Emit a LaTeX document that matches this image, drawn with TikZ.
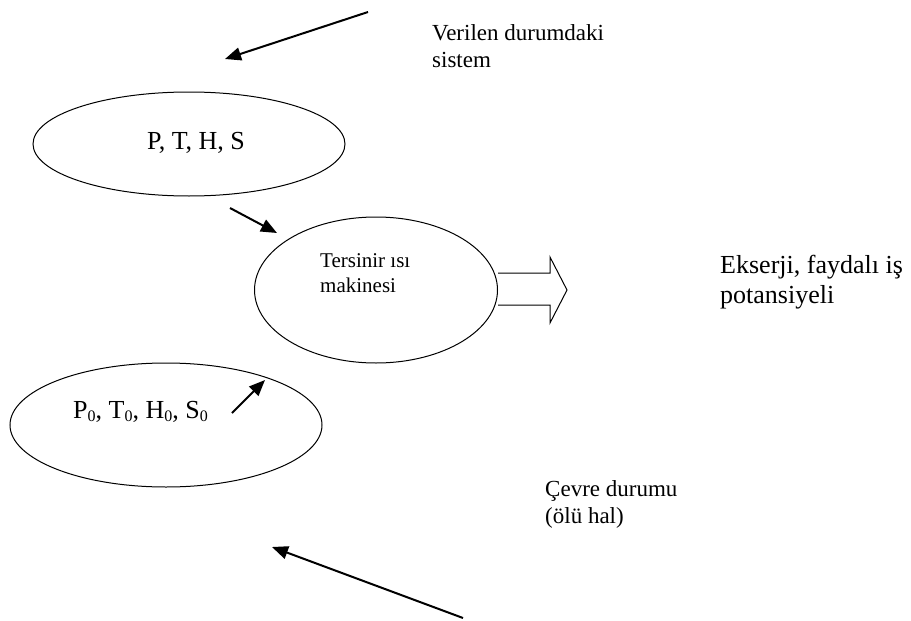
\documentclass[tikz,border=0pt]{standalone}
\usepackage{fontspec}
\setmainfont{Liberation Serif}
\usetikzlibrary{shapes.geometric,arrows.meta}
% subscript zero as set by a word processor: smaller and slightly lowered
\newcommand{\zsub}{\raisebox{-0.12em}{\fontsize{16}{16}\selectfont 0}}
\begin{document}
\begin{tikzpicture}[x=1pt,y=-1pt,
  state/.style={draw,ellipse,line width=1pt,inner sep=0pt},
  bigtext/.style={font=\fontsize{26}{30}\selectfont,inner sep=0pt,anchor=base west,align=left},
  midtext/.style={font=\fontsize{23}{27}\selectfont,inner sep=0pt,anchor=base west,align=left},
  smalltext/.style={font=\fontsize{21}{25}\selectfont,inner sep=0pt,anchor=base west,align=left},
  pointer/.style={line width=2pt,-{Triangle[length=16pt,width=13pt]}},
  hollow/.style={draw,line width=1pt,line join=miter}]
\useasboundingbox (0,0) rectangle (911,621);

% the three states
\node[state,minimum width=312pt,minimum height=104pt] (given) at (189,144) {};
\node[state,minimum width=243pt,minimum height=146pt] (engine) at (376,290) {};
\node[state,minimum width=312pt,minimum height=124pt] (dead) at (166,425) {};

% texts inside the ellipses (multi-line nodes sit on their last baseline)
\node[bigtext] (givenlbl) at (147,149) {P, T, H, S};
\node[smalltext] (enginelbl) at (320,292) {Tersinir ısı\\makinesi};
\node[bigtext] (deadlbl) at (73,418) {P\zsub, T\zsub, H\zsub, S\zsub};

% captions
\node[midtext] (givencap) at (432,67) {Verilen durumdaki\\sistem};
\node[bigtext] (outcap) at (720,303) {Ekserji, faydalı iş\\potansiyeli};
\node[midtext] (deadcap) at (545,523) {Çevre durumu\\(ölü hal)};

% free ends of the pointers
\coordinate (topA) at (368,12);
\coordinate (topB) at (225,59);
\coordinate (midA) at (230,208);
\coordinate (midB) at (277,233);
\coordinate (lowA) at (232,413);
\coordinate (lowB) at (265,380);
\coordinate (botA) at (463,618);
\coordinate (botB) at (272,547);

\draw[pointer] (topA) -- (topB);
\draw[pointer] (midA) -- (midB);
\draw[pointer] (lowA) -- (lowB);
\draw[pointer] (botA) -- (botB);

% hollow block arrow leaving the engine
\draw[hollow] ([yshift=17pt]engine.east) -- ++(52,0) -- ++(0,-16) -- ++(17,33)
  -- ++(-17,33) -- ++(0,-18) -- ([yshift=-15pt]engine.east);
\end{tikzpicture}
\end{document}
